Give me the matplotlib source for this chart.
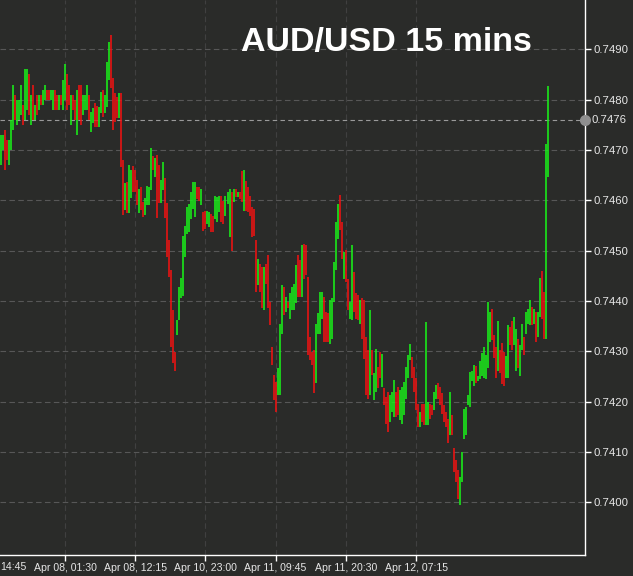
import matplotlib
matplotlib.use("Agg")
import matplotlib.pyplot as plt

# 15-minute bars, index 3 .. 276 (bar index = position on the time axis)
first_bar = 3
bar_high = [
    0.7473, 0.7473, 0.7474, 0.7472, 0.7472, 0.7476, 0.7483, 0.7481, 0.7480, 0.7480,
    0.7483, 0.7479, 0.7486, 0.7486, 0.7485, 0.7481, 0.7483, 0.7479, 0.7481, 0.7481,
    0.7481, 0.7482, 0.7483, 0.7482, 0.7482, 0.7482, 0.7482, 0.7482, 0.7481, 0.7481,
    0.7481, 0.7484, 0.7487, 0.7485, 0.7483, 0.7481, 0.7481, 0.7480, 0.7482, 0.7483,
    0.7483, 0.7481, 0.7481, 0.7483, 0.7481,
    0.74776, 0.74783, 0.74793, 0.74787, 0.74786, 0.74816, 0.74819, 0.74809, 0.74875, 0.74915,
    0.74928, 0.74842, 0.74813, 0.74806, 0.74813, 0.74813, 0.74680, 0.74634, 0.74637, 0.74670,
    0.74660, 0.74668, 0.74660, 0.74640, 0.74622, 0.74627, 0.74597, 0.74604, 0.74628, 0.74627,
    0.74703, 0.74687, 0.74683, 0.74690, 0.74670, 0.74640, 0.74677, 0.74644, 0.74594, 0.74521,
    0.74462, 0.74382, 0.74299, 0.74362, 0.74428, 0.74445, 0.74528, 0.74548,
    0.74586, 0.74592, 0.74616, 0.74636, 0.74637, 0.74626, 0.74626, 0.74622, 0.74576, 0.74579,
    0.74579, 0.74576, 0.74572, 0.74569, 0.74609, 0.74606, 0.74609, 0.74609, 0.74599, 0.74609,
    0.74616, 0.74622, 0.74616, 0.74622, 0.74622, 0.74616, 0.74616, 0.74659, 0.74661, 0.74639,
    0.74626, 0.74609, 0.74586, 0.74582,
    0.74521, 0.74484, 0.74474, 0.74468, 0.74468, 0.74474, 0.74491, 0.74398, 0.74309, 0.74252,
    0.74239, 0.74266, 0.74355, 0.74431, 0.74428, 0.74408, 0.74398, 0.74415, 0.74428, 0.74434,
    0.74471, 0.74491, 0.74481, 0.74511, 0.74514, 0.74512, 0.74448, 0.74328, 0.74299, 0.74302,
    0.74355, 0.74375, 0.74418, 0.74418, 0.74408, 0.74378, 0.74375, 0.74401, 0.74405, 0.74478,
    0.74557, 0.74593, 0.74610, 0.74557, 0.74497, 0.74501, 0.74444, 0.74398, 0.74511, 0.74458,
    0.74415, 0.74411, 0.74401, 0.74405, 0.74401, 0.74328, 0.74302, 0.74381, 0.74302, 0.74256,
    0.74305, 0.74269, 0.74299, 0.74295, 0.74226, 0.74209, 0.74219, 0.74213, 0.74219, 0.74242,
    0.74219, 0.74229, 0.74223, 0.74229, 0.74239, 0.74269, 0.74292, 0.74315, 0.74289, 0.74269,
    0.74246, 0.74196, 0.74180, 0.74196, 0.74196, 0.74358, 0.74199, 0.74196, 0.74193, 0.74219,
    0.74232, 0.74236, 0.74229, 0.74216, 0.74193, 0.74180, 0.74166, 0.74219, 0.74173, 0.74107,
    0.74083, 0.74064, 0.74050, 0.74100, 0.74186, 0.74190, 0.74213, 0.74259,
    0.74260, 0.74273, 0.74270, 0.74250, 0.74280, 0.74296, 0.74309, 0.74293, 0.74397, 0.74378,
    0.74384, 0.74332, 0.74309, 0.74361, 0.74303, 0.74316, 0.74299, 0.74290, 0.74352, 0.74348,
    0.74361, 0.74368, 0.74345, 0.74325, 0.74312, 0.74355, 0.74329, 0.74378, 0.74384, 0.74401,
    0.74388, 0.74384, 0.74378, 0.74378, 0.74446, 0.74459, 0.74417, 0.74712, 0.74827,
]
bar_low = [
    0.7467, 0.7470, 0.7466, 0.7468, 0.7467, 0.7470, 0.7474, 0.7476, 0.7475, 0.7476,
    0.7477, 0.7475, 0.7476, 0.7478, 0.7477, 0.7475, 0.7476, 0.7476, 0.7477, 0.7478,
    0.7479, 0.7479, 0.7480, 0.7480, 0.7480, 0.7480, 0.7478, 0.7478, 0.7478, 0.7478,
    0.7479, 0.7478, 0.7480, 0.7478, 0.7479, 0.7475, 0.7478, 0.7476, 0.7473, 0.7476,
    0.7475, 0.7477, 0.7478, 0.7478, 0.7476,
    0.74736, 0.74753, 0.74746, 0.74746, 0.74746, 0.74773, 0.74766, 0.74773, 0.74786, 0.74839,
    0.74823, 0.74740, 0.74756, 0.74763, 0.74763, 0.74667, 0.74571, 0.74581, 0.74574, 0.74574,
    0.74604, 0.74617, 0.74617, 0.74591, 0.74575, 0.74581, 0.74566, 0.74571, 0.74591, 0.74591,
    0.74620, 0.74660, 0.74647, 0.74564, 0.74594, 0.74594, 0.74620, 0.74564, 0.74488, 0.74448,
    0.74309, 0.74276, 0.74260, 0.74332, 0.74362, 0.74405, 0.74409, 0.74488,
    0.74533, 0.74536, 0.74562, 0.74582, 0.74566, 0.74602, 0.74599, 0.74590, 0.74539, 0.74543,
    0.74552, 0.74546, 0.74536, 0.74536, 0.74562, 0.74556, 0.74576, 0.74556, 0.74552, 0.74569,
    0.74592, 0.74526, 0.74499, 0.74596, 0.74606, 0.74606, 0.74602, 0.74596, 0.74579, 0.74579,
    0.74576, 0.74569, 0.74526, 0.74529,
    0.74418, 0.74431, 0.74418, 0.74385, 0.74381, 0.74434, 0.74385, 0.74352, 0.74272, 0.74203,
    0.74179, 0.74213, 0.74213, 0.74335, 0.74372, 0.74378, 0.74385, 0.74365, 0.74381, 0.74381,
    0.74395, 0.74408, 0.74408, 0.74408, 0.74444, 0.74451, 0.74292, 0.74282, 0.74272, 0.74216,
    0.74236, 0.74335, 0.74335, 0.74365, 0.74319, 0.74319, 0.74319, 0.74315, 0.74325, 0.74398,
    0.74461, 0.74524, 0.74540, 0.74484, 0.74444, 0.74438, 0.74381, 0.74365, 0.74362, 0.74378,
    0.74365, 0.74362, 0.74355, 0.74325, 0.74285, 0.74213, 0.74206, 0.74213, 0.74252, 0.74203,
    0.74219, 0.74226, 0.74246, 0.74229, 0.74193, 0.74156, 0.74140, 0.74160, 0.74180, 0.74170,
    0.74170, 0.74173, 0.74163, 0.74156, 0.74173, 0.74206, 0.74246, 0.74282, 0.74246, 0.74219,
    0.74183, 0.74150, 0.74150, 0.74160, 0.74153, 0.74153, 0.74153, 0.74166, 0.74173, 0.74183,
    0.74206, 0.74206, 0.74193, 0.74176, 0.74160, 0.74150, 0.74117, 0.74133, 0.74133, 0.74060,
    0.74040, 0.74007, 0.73994, 0.74040, 0.74126, 0.74133, 0.74193, 0.74190,
    0.74241, 0.74231, 0.74237, 0.74241, 0.74244, 0.74250, 0.74247, 0.74244, 0.74267, 0.74319,
    0.74322, 0.74286, 0.74247, 0.74260, 0.74257, 0.74234, 0.74231, 0.74247, 0.74247, 0.74312,
    0.74303, 0.74312, 0.74260, 0.74267, 0.74250, 0.74303, 0.74293, 0.74335, 0.74355, 0.74352,
    0.74352, 0.74355, 0.74319, 0.74329, 0.74368, 0.74365, 0.74325, 0.74325, 0.74647,
]
# G = close above open, R = close below open
bar_dir = "".join([
    "GGRRGGGRGGGRGGRGRGRGRGGRRGGRRGRGGRRGRRGRRGGGR",
    "GGRRGGRGGGRRRRGRRGRGGRRRGRRGGGGRGRRGGRRRRRRGGGGG",
    "GGGGGRRGRRGGRRGGGRRGGGRGRGRRGRRRRR",
    "RGRRGRRRRRRGGGRGRGGGGRRGRRRRRRGGGGRRRGGGGGRRGRRGGR",
    "RRGRRRRGRGGRRGRRRGGGRRGGGGGGRRRRGRRGGRRGGRRRRRRGRRRRGGGGGG",
    "GGRGGGGGGGRRRGRRRGGRRGGRGGRGGGRGRGGRRGG",
])

ytick_vals = [0.7400, 0.7410, 0.7420, 0.7430, 0.7440, 0.7450, 0.7460, 0.7470, 0.7480, 0.7490]
ytick_labels = ["0.7400", "0.7410", "0.7420", "0.7430", "0.7440",
                "0.7450", "0.7460", "0.7470", "0.7480", "0.7490"]
xtick_pos = [35, 70, 105, 140, 175, 210]
xtick_labels = ["Apr 08, 01:30", "Apr 08, 12:15", "Apr 10, 23:00",
                "Apr 11, 09:45", "Apr 11, 20:30", "Apr 12, 07:15"]
cut_label = "14:45"
last_price = 0.7476

bg = "#2a2b29"
up_col = "#19f019"
down_col = "#f01212"
text_col = "#e6e6e6"
plt.rcParams["font.family"] = ["Liberation Sans", "DejaVu Sans"]

fig = plt.figure(figsize=(6.33, 5.76), dpi=100, facecolor=bg)
ax = fig.add_axes([0, 21 / 576, 585 / 633, 555 / 576], facecolor=bg)

x = list(range(first_bar, first_bar + len(bar_high)))
cols = [up_col if d == "G" else down_col for d in bar_dir]
ax.vlines(x, bar_low, bar_high, colors=cols, linewidth=1.15, zorder=3)

ax.set_xlim(2.6, 294.2)
ax.set_ylim(0.73895, 0.74998)

ax.set_yticks(ytick_vals)
ax.set_yticklabels(ytick_labels)
ax.yaxis.tick_right()
ax.set_xticks(xtick_pos)
ax.set_xticklabels(xtick_labels)
ax.tick_params(axis="y", colors="white", labelcolor=text_col, labelsize=8.2, length=4,
               width=1, direction="out", pad=2)
ax.tick_params(axis="x", colors="white", labelcolor=text_col, labelsize=7.6, length=4,
               width=1, direction="out", pad=2)

for s in ["left", "top"]:
    ax.spines[s].set_visible(False)
for s in ["right", "bottom"]:
    ax.spines[s].set_color("white")
    ax.spines[s].set_linewidth(1)

ax.grid(axis="y", color="#575757", linestyle=(0, (5, 3)), linewidth=0.8, zorder=0)
ax.grid(axis="x", color="#404040", linestyle=(0, (5, 3)), linewidth=0.8, zorder=0)

# visible tail of the first date label, which is cut by the left edge
fig.text(0.5 / 633, 14 / 576, cut_label, ha="left", va="top", color=text_col, fontsize=7.6)

# current price line
ax.axhline(last_price, color="#9a9a9a", linestyle=(0, (4, 3)), linewidth=0.8, zorder=2)
ax.plot([294.2], [last_price], "o", color="#8f8f8f", markersize=7, clip_on=False, zorder=5)
ax.text(1.0 + 7 / 585, last_price, f"{last_price:.4f}", transform=ax.get_yaxis_transform(),
        ha="left", va="center", color=text_col, fontsize=8.2, clip_on=False)

fig.text(0.611, 0.927, "AUD/USD 15 mins", ha="center", va="center", color="white",
         fontsize=24.5, fontweight="bold")

fig.savefig("out.png", dpi=100, facecolor=bg)
